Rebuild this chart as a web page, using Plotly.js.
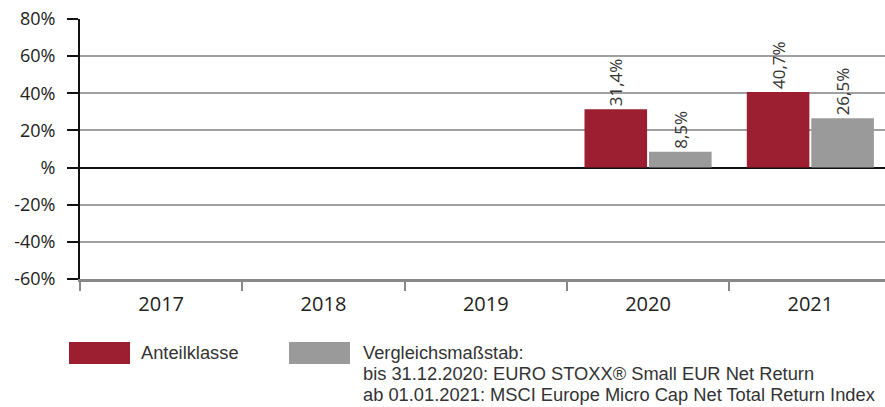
<!DOCTYPE html>
<html><head><meta charset="utf-8">
<script src="https://cdn.plot.ly/plotly-3.0.1.min.js"></script>
<style>html,body{margin:0;padding:0;background:#fff}#c{width:885px;height:407px}</style>
</head><body><div id="c"></div>
<script>
const years = ['2017','2018','2019','2020','2021'];
const anteil = [null, null, null, 31.4, 40.7];
const vergleich = [null, null, null, 8.5, 26.5];
const anteilLabels = ['', '', '', '31,4%', '40,7%'];
const vergleichLabels = ['', '', '', '8,5%', '26,5%'];
const yTicks = [-60, -40, -20, 0, 20, 40, 60, 80];
const yTickText = ['-60%', '-40%', '-20%', '%', '20%', '40%', '60%', '80%'];
const seriesNames = ['Anteilklasse', 'Vergleichsmaßstab:'];
const benchmarkLines = ['Vergleichsmaßstab:', 'bis 31.12.2020: EURO STOXX® Small EUR Net Return', 'ab 01.01.2021: MSCI Europe Micro Cap Net Total Return Index'];
const colors = ['#9b1f30', '#9a9a9a'];
const FONT = '"Open Sans", "Noto Sans", sans-serif';
const LEGFONT = '"Liberation Sans", Arial, sans-serif';

const W = 805, H = 260, L = 80, T = 19;
const px = v => (v - L) / W;
const py = v => 1 - (v - T) / H;

const traces = [
  {type:'bar', x:years, y:anteil, text:anteilLabels, textposition:'outside', textangle:-90,
   textfont:{family:FONT, size:17, color:'#333'}, cliponaxis:false,
   marker:{color:colors[0]}, name:seriesNames[0], hoverinfo:'none'},
  {type:'bar', x:years, y:vergleich, text:vergleichLabels, textposition:'outside', textangle:-90,
   textfont:{family:FONT, size:17, color:'#333'}, cliponaxis:false,
   marker:{color:colors[1]}, name:seriesNames[1], hoverinfo:'none'}
];

const legendAnn = [
  {x:px(140), y:py(341.4), text:seriesNames[0]},
  {x:px(362), y:py(341.4), text:benchmarkLines[0]},
  {x:px(362), y:py(362.4), text:benchmarkLines[1]},
  {x:px(362), y:py(383.4), text:benchmarkLines[2]}
].map(a => Object.assign({xref:'paper', yref:'paper', xanchor:'left', yanchor:'top', borderpad:0,
  showarrow:false, align:'left', font:{family:LEGFONT, size:18.3, color:'#333'}}, a));

const layout = {
  width:885, height:407,
  margin:{l:L, r:0, t:T, b:128},
  paper_bgcolor:'#fff', plot_bgcolor:'#fff',
  showlegend:false,
  barmode:'group', bargap:0.205, bargroupgap:0.03,
  font:{family:FONT, color:'#222'},
  xaxis:{type:'category', range:[-0.5, 4.46], showgrid:false, tickson:'boundaries', ticks:'outside', ticklen:9,
    tickcolor:'#888', tickwidth:2, showline:true, linecolor:'#888', linewidth:2.5,
    ticklabelstandoff:5,
    tickfont:{size:20, color:'#222'}, fixedrange:true, zeroline:false},
  yaxis:{range:[-60,80], tickvals:yTicks, ticktext:yTickText, ticks:'outside', ticklen:11,
    tickcolor:'#111', tickwidth:2, showline:true, linecolor:'#111', linewidth:2,
    gridcolor:'#a0a0a0', gridwidth:2, zeroline:true, zerolinecolor:'#111', zerolinewidth:2,
    ticklabelstandoff:8,
    tickfont:{size:18, color:'#222'}, fixedrange:true},
  shapes:[
    {type:'rect', xref:'paper', yref:'paper', x0:px(69), x1:px(130), y0:py(342), y1:py(364),
     fillcolor:colors[0], line:{width:0}},
    {type:'rect', xref:'paper', yref:'paper', x0:px(289), x1:px(350), y0:py(342), y1:py(364),
     fillcolor:colors[1], line:{width:0}}
  ],
  annotations:legendAnn
};
Plotly.newPlot('c', traces, layout, {displayModeBar:false, staticPlot:true});
</script></body></html>
